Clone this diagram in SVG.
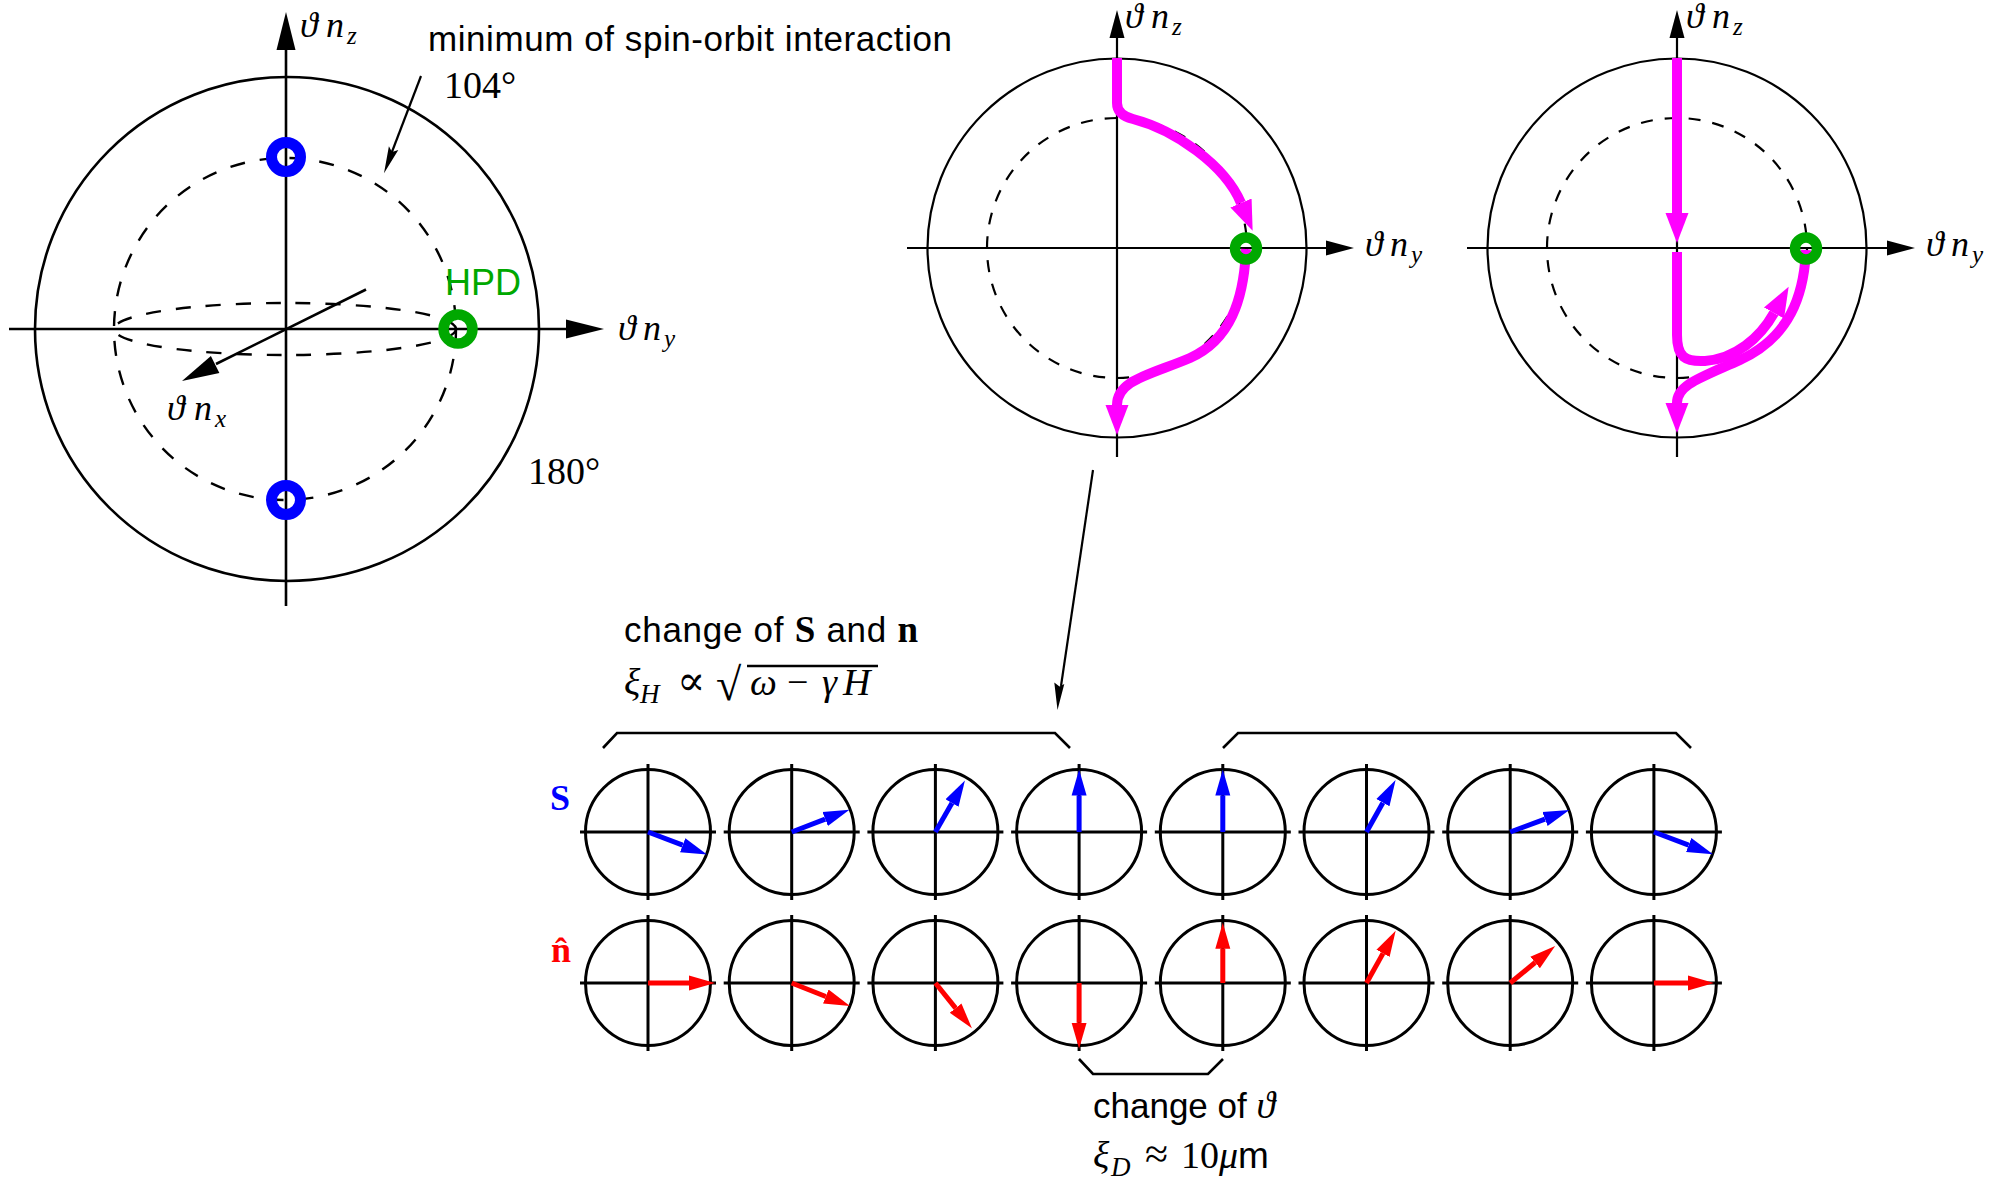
<svg xmlns="http://www.w3.org/2000/svg" width="2008" height="1184" viewBox="0 0 2008 1184">
<style>
  .ln{fill:none;stroke:#000;stroke-width:2.6}
  .ln2{fill:none;stroke:#000;stroke-width:2.2}
  .dash{fill:none;stroke:#000;stroke-width:2.4;stroke-dasharray:15 15}
  .dash2{fill:none;stroke:#000;stroke-width:2.2;stroke-dasharray:12 12}
  .head{fill:#000}
  .blue{fill:none;stroke:#0000ff;stroke-width:11}
  .green{fill:none;stroke:#00a800;stroke-width:10.5}
  .mag{fill:none;stroke:#ff00ff;stroke-width:10;marker-end:url(#mh)}
  .sc{fill:none;stroke:#000;stroke-width:3}
  .sa{fill:none;stroke:#0000ff;stroke-width:5;marker-end:url(#bh)}
  .ra{fill:none;stroke:#ff0000;stroke-width:5;marker-end:url(#rh)}
  .sans{font-family:"Liberation Sans",Arial,sans-serif;font-size:35px;fill:#000}
  .it{font-family:"Liberation Serif","DejaVu Serif",serif;font-style:italic;font-size:36px;fill:#000}
  .sub{font-size:25px}
  .rm{font-family:"Liberation Serif","DejaVu Serif",serif;font-size:38px;fill:#000}
  .bf{font-family:"Liberation Serif","DejaVu Serif",serif;font-weight:bold;font-style:normal}
</style>
<defs>
  <marker id="mh" markerUnits="userSpaceOnUse" markerWidth="32" markerHeight="26" viewBox="0 -13 32 26" refX="0" refY="0" orient="auto">
    <path d="M0,-11.5 L30,0 L0,11.5 z" fill="#ff00ff"/>
  </marker>
  <marker id="bh" markerUnits="userSpaceOnUse" markerWidth="28" markerHeight="18" viewBox="0 -9 28 18" refX="0" refY="0" orient="auto">
    <path d="M0,-7.5 L26,0 L0,7.5 z" fill="#0000ff"/>
  </marker>
  <marker id="rh" markerUnits="userSpaceOnUse" markerWidth="28" markerHeight="18" viewBox="0 -9 28 18" refX="0" refY="0" orient="auto">
    <path d="M0,-7.5 L26,0 L0,7.5 z" fill="#ff0000"/>
  </marker>
</defs>
<rect width="2008" height="1184" fill="#fff"/>

<!-- Left sphere -->
<g id="left-sphere">
  <circle class="ln" cx="287" cy="329" r="252"/>
  <circle class="dash" cx="285" cy="329" r="171"/>
  <ellipse class="dash" cx="285" cy="329" rx="171" ry="26"/>
  <line class="ln" x1="286" y1="606" x2="286" y2="48"/>
  <polygon class="head" points="286,12 276.5,50 295.5,50"/>
  <line class="ln" x1="9" y1="329" x2="568" y2="329"/>
  <polygon class="head" points="604,329 566,319.5 566,338.5"/>
  <line class="ln" x1="366" y1="289.5" x2="216" y2="364"/>
  <polygon class="head" points="182,381 219.4,373 210.9,356"/>
  <circle class="blue" cx="286" cy="157" r="14.5"/>
  <circle class="blue" cx="286" cy="500" r="14.5"/>
  <circle class="green" cx="458" cy="329" r="14.5"/>
  <text class="sans" x="445" y="295" style="fill:#00a800;font-size:36px">HPD</text>
  <text class="it" x="300" y="37">ϑ</text><text class="it" x="326" y="37">n</text><text class="it sub" x="347" y="44">z</text>
  <text class="it" x="618" y="340">ϑ</text><text class="it" x="643" y="340">n</text><text class="it sub" x="664" y="347">y</text>
  <text class="it" x="167" y="420">ϑ</text><text class="it" x="194" y="420">n</text><text class="it sub" x="215" y="427">x</text>
  <text class="rm" x="444" y="98">104°</text>
  <text class="rm" x="528" y="484">180°</text>
  <text class="sans" x="428" y="51" textLength="524" lengthAdjust="spacing">minimum of spin-orbit interaction</text>
</g>

<!-- Middle sphere -->
<g id="middle-sphere">
  <circle class="ln2" cx="1117" cy="248" r="189.5"/>
  <circle class="dash2" cx="1117" cy="248" r="130"/>
  <line class="ln2" x1="1117" y1="457" x2="1117" y2="36"/>
  <polygon class="head" points="1117,10 1109.5,38 1124.5,38"/>
  <line class="ln2" x1="907" y1="248" x2="1328" y2="248"/>
  <polygon class="head" points="1354,248 1326,240.5 1326,255.5"/>
  <path class="mag" d="M1117,58 V103 Q1117,115 1133,119 C1175,130 1225,165 1241,203"/>
  <path class="mag" d="M1246,249 C1244,300 1230,340 1190,358 C1150,375 1117,380 1117,405"/>
  <circle class="green" cx="1246" cy="248.5" r="11"/>
  <text class="it" x="1125" y="28">ϑ</text><text class="it" x="1151" y="28">n</text><text class="it sub" x="1172" y="35">z</text>
  <text class="it" x="1365" y="256">ϑ</text><text class="it" x="1390" y="256">n</text><text class="it sub" x="1411" y="263">y</text>
</g>

<!-- Right sphere -->
<g id="right-sphere">
  <circle class="ln2" cx="1677" cy="248" r="189.5"/>
  <circle class="dash2" cx="1677" cy="248" r="130"/>
  <line class="ln2" x1="1677" y1="457" x2="1677" y2="36"/>
  <polygon class="head" points="1677,10 1669.5,38 1684.5,38"/>
  <line class="ln2" x1="1467" y1="248" x2="1889" y2="248"/>
  <polygon class="head" points="1915,248 1887,240.5 1887,255.5"/>
  <path class="mag" d="M1677,58 V213"/>
  <path class="mag" d="M1677,252 V335 C1677,357 1685,362 1705,361 C1735,359 1760,338 1774,313"/>
  <path class="mag" d="M1806,250 C1804,295 1790,337 1740,360 C1700,378 1677,385 1677,403"/>
  <circle class="green" cx="1806" cy="248.5" r="11"/>
  <text class="it" x="1686" y="28">ϑ</text><text class="it" x="1712" y="28">n</text><text class="it sub" x="1733" y="35">z</text>
  <text class="it" x="1926" y="256">ϑ</text><text class="it" x="1951" y="256">n</text><text class="it sub" x="1972" y="263">y</text>
</g>

<!-- Labels for rows -->
<g id="labels">
  <text class="bf" x="550" y="810" style="font-size:36px;fill:#0000ff">S</text>
  <text class="bf" x="551" y="962" style="font-size:36px;fill:#ff0000">n̂</text>
  <text class="sans" x="624" y="642" textLength="294" lengthAdjust="spacing">change of <tspan class="bf" style="font-size:37px">S</tspan> and <tspan class="bf" style="font-size:37px">n</tspan></text>
  <text class="it" x="624" y="695" style="font-size:38px">ξ</text>
  <text class="it" x="640" y="703" style="font-size:27px">H</text>
  <text class="rm" x="677" y="695" style="font-size:42px">∝</text>
  <text class="rm" x="716" y="700" style="font-size:46px">√</text>
  <line x1="747" y1="666" x2="878" y2="666" stroke="#000" stroke-width="2.4"/>
  <text class="it" x="750" y="695" style="font-size:38px">ω</text>
  <text class="rm" x="787" y="695" style="font-size:38px">−</text>
  <text class="it" x="822" y="695" style="font-size:38px">γ</text>
  <text class="it" x="843" y="695" style="font-size:38px">H</text>
  <text class="sans" x="1093" y="1118">change of <tspan class="it" style="font-size:38px">ϑ</tspan></text>
  <text class="it" x="1093" y="1168" style="font-size:38px">ξ</text>
  <text class="it" x="1111" y="1176" style="font-size:27px">D</text>
  <text class="rm" x="1145" y="1168" style="font-size:42px">≈</text>
  <text class="rm" x="1181" y="1168" style="font-size:38px">10<tspan class="it" style="font-size:38px">μ</tspan><tspan class="sans" style="font-size:37px">m</tspan></text>
</g>

<!-- Brackets -->
<g id="brackets">
  <polyline class="ln" points="603,748 617,733 1055,733 1070,748"/>
  <polyline class="ln" points="1223,748 1238,733 1676,733 1691,748"/>
  <polyline class="ln" points="1079,1059 1093,1074 1208,1074 1223,1059"/>
</g>

<!-- Row S -->
<g id="row-S">
  <g id="s1"><circle class="sc" cx="648" cy="832" r="62.5"/><path class="sc" d="M580,832H716M648,764V900"/><line class="sa" x1="648" y1="832" x2="682.7" y2="845.2"/></g>
  <g id="s2"><circle class="sc" cx="791.7" cy="832" r="62.5"/><path class="sc" d="M723.7,832H859.7M791.7,764V900"/><line class="sa" x1="791.7" y1="832" x2="825.2" y2="819.1"/></g>
  <g id="s3"><circle class="sc" cx="935.4" cy="832" r="62.5"/><path class="sc" d="M867.4,832H1003.4M935.4,764V900"/><line class="sa" x1="935.4" y1="832" x2="952" y2="803.1"/></g>
  <g id="s4"><circle class="sc" cx="1079.1" cy="832" r="62.5"/><path class="sc" d="M1011.1,832H1147.1M1079.1,764V900"/><line class="sa" x1="1079.1" y1="832" x2="1079.1" y2="795.5"/></g>
  <g id="s5"><circle class="sc" cx="1222.8" cy="832" r="62.5"/><path class="sc" d="M1154.8,832H1290.8M1222.8,764V900"/><line class="sa" x1="1222.8" y1="832" x2="1222.8" y2="795.5"/></g>
  <g id="s6"><circle class="sc" cx="1366.5" cy="832" r="62.5"/><path class="sc" d="M1298.5,832H1434.5M1366.5,764V900"/><line class="sa" x1="1366.5" y1="832" x2="1382.9" y2="802.7"/></g>
  <g id="s7"><circle class="sc" cx="1510.2" cy="832" r="62.5"/><path class="sc" d="M1442.2,832H1578.2M1510.2,764V900"/><line class="sa" x1="1510.2" y1="832" x2="1545" y2="819.05"/></g>
  <g id="s8"><circle class="sc" cx="1653.9" cy="832" r="62.5"/><path class="sc" d="M1585.9,832H1721.9M1653.9,764V900"/><line class="sa" x1="1653.9" y1="832" x2="1688.7" y2="845.1"/></g>
</g>

<!-- Row n -->
<g id="row-n">
  <g id="n1"><circle class="sc" cx="648" cy="983" r="62.5"/><path class="sc" d="M580,983H716M648,915V1051"/><line class="ra" x1="648" y1="983" x2="689" y2="983"/></g>
  <g id="n2"><circle class="sc" cx="791.7" cy="983" r="62.5"/><path class="sc" d="M723.7,983H859.7M791.7,915V1051"/><line class="ra" x1="791.7" y1="983" x2="825.8" y2="996.5"/></g>
  <g id="n3"><circle class="sc" cx="935.4" cy="983" r="62.5"/><path class="sc" d="M867.4,983H1003.4M935.4,915V1051"/><line class="ra" x1="935.4" y1="983" x2="955.6" y2="1008.1"/></g>
  <g id="n4"><circle class="sc" cx="1079.1" cy="983" r="62.5"/><path class="sc" d="M1011.1,983H1147.1M1079.1,915V1051"/><line class="ra" x1="1079.1" y1="983" x2="1079.1" y2="1022.8"/></g>
  <g id="n5"><circle class="sc" cx="1222.8" cy="983" r="62.5"/><path class="sc" d="M1154.8,983H1290.8M1222.8,915V1051"/><line class="ra" x1="1222.8" y1="983" x2="1222.8" y2="948.7"/></g>
  <g id="n6"><circle class="sc" cx="1366.5" cy="983" r="62.5"/><path class="sc" d="M1298.5,983H1434.5M1366.5,915V1051"/><line class="ra" x1="1366.5" y1="983" x2="1383" y2="953.4"/></g>
  <g id="n7"><circle class="sc" cx="1510.2" cy="983" r="62.5"/><path class="sc" d="M1442.2,983H1578.2M1510.2,915V1051"/><line class="ra" x1="1510.2" y1="983" x2="1535.1" y2="962.5"/></g>
  <g id="n8"><circle class="sc" cx="1653.9" cy="983" r="62.5"/><path class="sc" d="M1585.9,983H1721.9M1653.9,915V1051"/><line class="ra" x1="1653.9" y1="983" x2="1688" y2="983"/></g>
</g>

<!-- Connectors -->
<g id="connectors">
  <line class="ln2" x1="421" y1="76" x2="390" y2="157"/>
  <polygon class="head" points="384,173.3 398.3,149.9 392,152 388.9,146.3"/>
  <line class="ln2" x1="1093" y1="470" x2="1061" y2="686"/>
  <polygon class="head" points="1057.5,710 1054.3,682.5 1059.5,686.5 1064.3,684"/>
</g>
</svg>
